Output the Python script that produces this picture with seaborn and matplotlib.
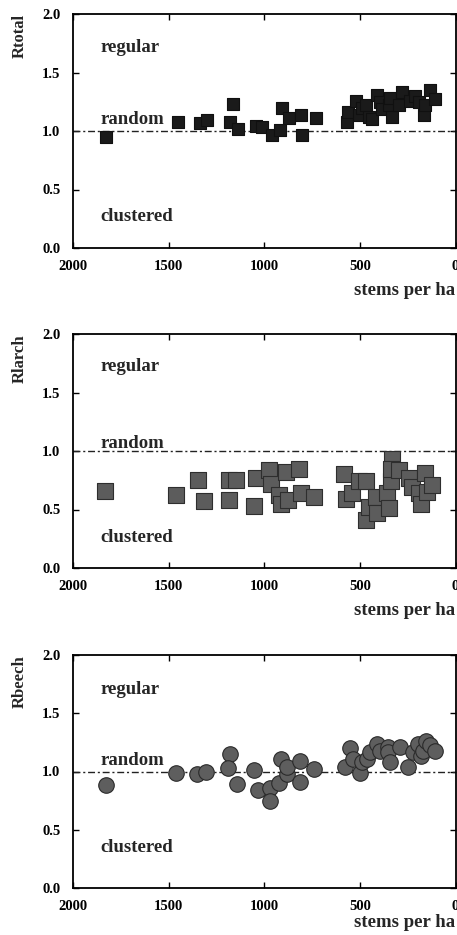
import numpy as np
import pandas as pd
import matplotlib
matplotlib.use("Agg")
import matplotlib.pyplot as plt
import seaborn as sns

# ---------------- data ----------------
total_x = [1826, 1452, 1334, 1301, 1165, 1179, 1136, 1043, 1010, 960, 920, 905, 870, 809, 805, 731,
           566, 563, 522, 505, 490, 470, 450, 436, 410, 395, 384, 350, 340, 332, 297, 280, 236,
           210, 190, 167, 158, 132, 106]
total_y = [0.95, 1.08, 1.07, 1.09, 1.23, 1.08, 1.02, 1.04, 1.03, 0.97, 1.01, 1.20, 1.11, 1.14, 0.97, 1.11,
           1.08, 1.16, 1.26, 1.14, 1.20, 1.22, 1.12, 1.10, 1.31, 1.25, 1.19, 1.22, 1.28, 1.12, 1.22, 1.33, 1.26,
           1.30, 1.25, 1.14, 1.22, 1.35, 1.27]

larch_x = [1835, 1464, 1348, 1313, 1183, 1148, 1186, 1056, 1043, 974, 965, 922, 913, 887, 878, 817, 809, 739,
           583, 574, 539, 504, 470, 470, 452, 417, 409, 357, 348, 339, 333, 339, 296, 243, 226, 191, 183,
           157, 148, 122]
larch_y = [0.66, 0.62, 0.75, 0.57, 0.75, 0.75, 0.58, 0.53, 0.77, 0.84, 0.72, 0.62, 0.55, 0.82, 0.58, 0.85, 0.64, 0.61,
           0.80, 0.59, 0.64, 0.74, 0.74, 0.41, 0.52, 0.61, 0.47, 0.64, 0.51, 0.74, 0.93, 0.85, 0.84, 0.77, 0.69, 0.64, 0.55,
           0.81, 0.65, 0.71]

beech_x = [1830, 1462, 1350, 1303, 1180, 1188, 1141, 1051, 1034, 972, 972, 925, 913, 882, 879, 815, 815, 739,
           578, 552, 535, 500, 491, 465, 448, 413, 396, 352, 352, 343, 291, 248, 222, 196, 179, 170, 153, 135, 109]
beech_y = [0.88, 0.99, 0.98, 1.00, 1.15, 1.03, 0.89, 1.01, 0.84, 0.86, 0.75, 0.90, 1.11, 0.98, 1.04, 1.09, 0.91, 1.02,
           1.04, 1.20, 1.11, 0.99, 1.08, 1.11, 1.17, 1.24, 1.18, 1.21, 1.17, 1.08, 1.21, 1.04, 1.17, 1.24, 1.13, 1.18,
           1.26, 1.23, 1.18]

y_labels = ["Rtotal", "Rlarch", "Rbeech"]
x_ticks = [2000, 1500, 1000, 500, 0]
y_ticks = [0.0, 0.5, 1.0, 1.5, 2.0]
region_labels = ["regular", "random", "clustered"]

# ---------------- style ----------------
sns.set_theme(style="ticks")
plt.rcParams["font.family"] = ["Liberation Serif", "DejaVu Serif"]
plt.rcParams["font.weight"] = "bold"

W, H = 457, 935
fig = plt.figure(figsize=(W / 100, H / 100), dpi=100)

panels = [
    dict(x=total_x, y=total_y, marker="s", s=78, fc="#1a1a1a", ec="#101010",
         top=14, bottom=248, text_y=[1.675, 1.06, 0.23], xpad=6),
    dict(x=larch_x, y=larch_y, marker="s", s=118, fc="#5c5c5c", ec="#2e2e2e",
         top=334, bottom=568, text_y=[1.686, 1.023, 0.225], xpad=6),
    dict(x=beech_x, y=beech_y, marker="o", s=125, fc="#5e5e5e", ec="#2a2a2a",
         top=655, bottom=888, text_y=[1.665, 1.06, 0.31], xpad=0.5),
]

left_px, right_px = 73, 455.5
for i, p in enumerate(panels):
    ax = fig.add_axes([left_px / W, 1 - p["bottom"] / H,
                       (right_px - left_px) / W, (p["bottom"] - p["top"]) / H])
    df = pd.DataFrame({"stems": p["x"], "R": p["y"]})
    ax.axhline(1.0, color="#222222", lw=1.0, ls=(0, (5, 2, 1.5, 2)), zorder=1)
    sns.scatterplot(data=df, x="stems", y="R", ax=ax, marker=p["marker"], s=p["s"],
                    color=p["fc"], edgecolor=p["ec"], linewidth=0.8, zorder=3, legend=False)
    ax.set_xlim(2000, 0)
    ax.set_ylim(0, 2.0)
    ax.set_xticks(x_ticks)
    ax.set_xticklabels([str(t) for t in x_ticks])
    ax.set_yticks(y_ticks)
    ax.set_yticklabels([f"{t:.1f}" for t in y_ticks])
    ax.tick_params(direction="in", length=4, width=1.0, top=True, right=True,
                   labelsize=10.5, colors="black")
    ax.tick_params(axis="y", pad=9)
    ax.tick_params(axis="x", pad=9)
    for lab in ax.get_xticklabels() + ax.get_yticklabels():
        lab.set_fontweight("bold")
    for sp in ax.spines.values():
        sp.set_linewidth(1.3)
        sp.set_color("black")
    ax.set_ylabel(y_labels[i], fontsize=12, fontweight="bold", loc="top")
    ax.yaxis.set_label_coords(-0.118, 1.0)
    ax.set_xlabel("stems per ha", fontsize=13.5, fontweight="bold", loc="right",
                  labelpad=p["xpad"])
    for lab, ty in zip(region_labels, p["text_y"]):
        ax.text(1855, ty, lab, fontsize=13.5, fontweight="bold", ha="left", va="baseline",
                zorder=4)

fig.savefig("out.png", dpi=100, facecolor="white")
